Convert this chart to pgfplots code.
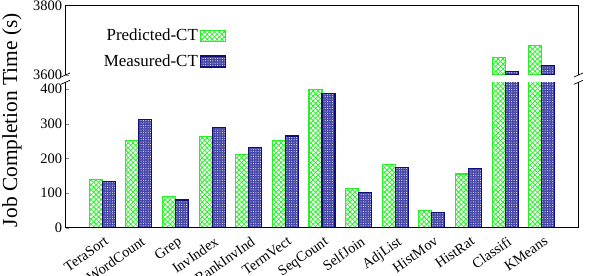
\documentclass[border=0pt]{standalone}
\usepackage{pgfplots}
\pgfplotsset{compat=1.18}
\usepackage{pgfplotstable}
\usepackage{fontspec}
\setmainfont{Liberation Serif}
\usetikzlibrary{patterns.meta}

\definecolor{predgreen}{RGB}{40,240,40}
\definecolor{measnavy}{RGB}{15,15,115}
\definecolor{measfill}{RGB}{70,70,165}

% job completion times in seconds
\pgfplotstableread{
idx pred meas
0   139  134
1   253  313
2   90   80
3   264  290
4   212  232
5   253  265
6   399  387
7   112  102
8   182  173
9   50   44
10  155  170
11  3650 3609
12  3685 3628
}\jobdata

\pgfplotsset{
  jobaxis/.style={
    scale only axis, width=513bp,
    xmin=-1, xmax=13, xtick={0,...,12},
    axis line style={draw=none},
    ytick pos=left, tick align=inside,
    major tick length=4bp,
    xtick style={draw=none},
    clip mode=individual,
    ybar,
    /pgf/number format/assume math mode=true,
    /pgf/number format/1000 sep={},
    tick label style={font=\fontsize{14.5}{17}\selectfont},
    legend image code/.code={\draw[##1] (0bp,-5.5bp) rectangle (25bp,5.5bp);},
  },
  predbar/.style={draw=predgreen, line width=1.1bp, fill=white,
    postaction={pattern={Lines[angle=45,distance=3.5pt,line width=0.8pt]}, pattern color=predgreen},
    postaction={pattern={Lines[angle=-45,distance=3.5pt,line width=0.8pt]}, pattern color=predgreen},
    bar width=0.355, bar shift=-0.1775},
  measbar/.style={draw=measnavy, line width=1.1bp, fill=measfill,
    postaction={pattern={Dots[distance=2.4pt,radius=0.5pt]}, pattern color=white},
    bar width=0.355, bar shift=0.1775},
}

\begin{document}
\begin{tikzpicture}
\useasboundingbox (0,0) rectangle (596bp,276bp);

% lower part of the broken axis
\begin{axis}[jobaxis,
  at={(65.5bp,48.3bp)}, anchor=south west,
  height=145.4bp, ymin=0, ymax=420,
  ytick={0,100,200,300,400},
  xticklabels={TeraSort,WordCount,Grep,InvIndex,RankInvInd,TermVect,SeqCount,SelfJoin,AdjList,HistMov,HistRat,Classifi,KMeans},
  xticklabel style={rotate=35, anchor=north east, inner sep=1bp, yshift=-3bp},
]
\addplot[predbar] table[x=idx,y=pred]{\jobdata};
\addplot[measbar] table[x=idx,y=meas]{\jobdata};
\draw[line width=0.8bp] (rel axis cs:0,1) -- (rel axis cs:0,0) -- (rel axis cs:1,0) -- (rel axis cs:1,1);
\draw[line width=0.7bp] ([shift={(-4.5bp,-2bp)}]rel axis cs:0,1) -- ++(9bp,4bp);
\draw[line width=0.7bp] ([shift={(-4.5bp,-2bp)}]rel axis cs:1,1) -- ++(9bp,4bp);
\end{axis}

% upper part of the broken axis: only the two long-running jobs reach it
\begin{axis}[jobaxis,
  at={(65.5bp,201bp)}, anchor=south west,
  height=69.5bp, ymin=3600, ymax=3800,
  ytick={3600,3800},
  xticklabels={},
  legend style={draw=none, fill=none, at={(axis description cs:0.319,0.72)}, anchor=north east,
    font=\fontsize{17}{20}\selectfont, legend cell align=right, row sep=8.5bp},
  legend plot pos=right,
]
\addplot[predbar] table[x=idx,y=pred, skip coords between index={0}{11}]{\jobdata};
\addlegendentry{Predicted-CT}
\addplot[measbar] table[x=idx,y=meas, skip coords between index={0}{11}]{\jobdata};
\addlegendentry{Measured-CT}
\draw[line width=0.8bp] (rel axis cs:0,0) -- (rel axis cs:0,1) -- (rel axis cs:1,1) -- (rel axis cs:1,0);
\draw[line width=0.7bp] ([shift={(-4.5bp,-2bp)}]rel axis cs:0,0) -- ++(9bp,4bp);
\draw[line width=0.7bp] ([shift={(-4.5bp,-2bp)}]rel axis cs:1,0) -- ++(9bp,4bp);
\end{axis}

\node[rotate=90, font=\fontsize{21.5}{25}\selectfont] at (12bp,156bp) {Job Completion Time (s)};
\end{tikzpicture}
\end{document}
